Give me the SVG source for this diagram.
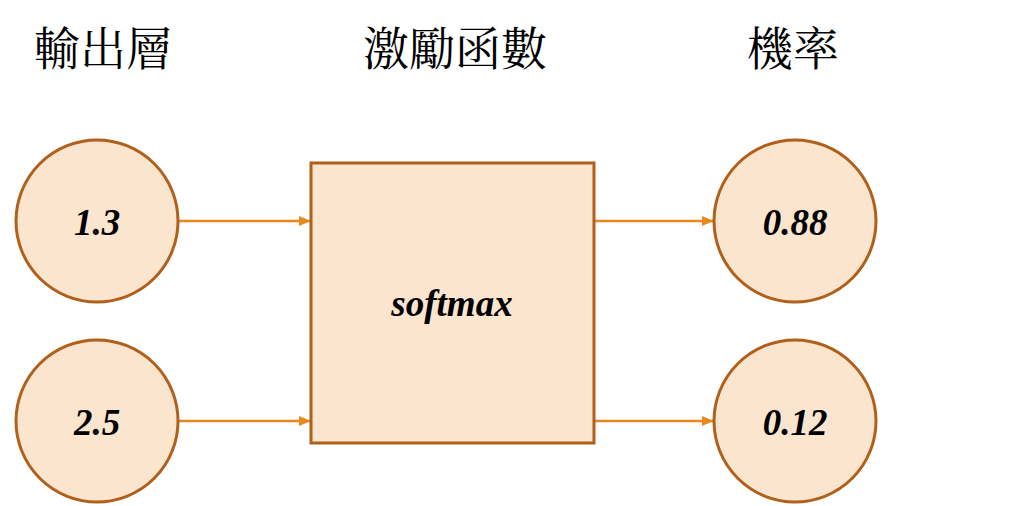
<svg xmlns="http://www.w3.org/2000/svg" width="1024" height="506" viewBox="0 0 1024 506">
<style>
.node{fill:#FBE5CF;stroke:#B0601A;stroke-width:3}
.lbl{font-family:"Liberation Serif","Times New Roman",serif;font-style:italic;font-weight:bold;font-size:37px;fill:#000;text-anchor:middle}
.title{font-family:"Liberation Serif","Noto Serif CJK TC","Noto Sans CJK TC",serif;font-size:46px;fill:#000;text-anchor:middle}
.edge{stroke:#E8891F;stroke-width:2.5;fill:none;marker-end:url(#ah)}
</style>
<defs>
<marker id="ah" markerWidth="12" markerHeight="10" refX="11" refY="5" orient="auto" markerUnits="userSpaceOnUse">
<path d="M0,0 L12,5 L0,10 Z" fill="#E8891F"/>
</marker>
</defs>
<rect width="1024" height="506" fill="#fff"/>
<g id="titles">
<text class="title" x="103" y="65">輸出層</text>
<text class="title" x="455" y="65">激勵函數</text>
<text class="title" x="793" y="65">機率</text>
</g>
<g id="connectors">
<line class="edge" x1="178" y1="221" x2="310" y2="221"/>
<line class="edge" x1="178" y1="421" x2="310" y2="421"/>
<line class="edge" x1="594" y1="221" x2="713" y2="221"/>
<line class="edge" x1="594" y1="421" x2="713" y2="421"/>
</g>
<g id="in1"><circle class="node" cx="97" cy="221" r="81"/><text class="lbl" x="97" y="235">1.3</text></g>
<g id="in2"><circle class="node" cx="97" cy="421" r="81"/><text class="lbl" x="97" y="435">2.5</text></g>
<g id="softmax"><rect class="node" x="311" y="163" width="283" height="280"/><text class="lbl" x="452" y="316">softmax</text></g>
<g id="out1"><circle class="node" cx="795" cy="221" r="81"/><text class="lbl" x="795" y="235">0.88</text></g>
<g id="out2"><circle class="node" cx="795" cy="421" r="81"/><text class="lbl" x="795" y="435">0.12</text></g>
</svg>
